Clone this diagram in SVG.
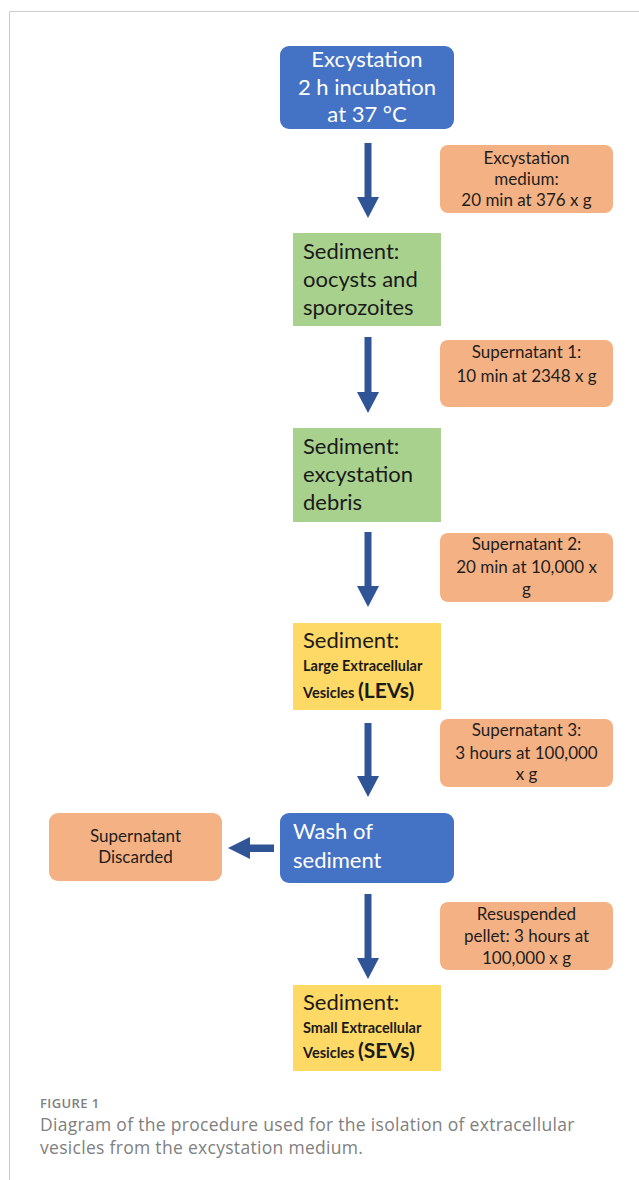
<svg xmlns="http://www.w3.org/2000/svg" width="639" height="1180" viewBox="0 0 639 1180">
<style>
.blue{fill:#4472c4}
.orange{fill:#f4b183}
.green{fill:#a9d18e}
.yellow{fill:#ffd966}
.arrow{fill:#2f5597}
text{font-family:Lato,"Liberation Sans",Arial,sans-serif}
.wt{fill:#ffffff;font-size:22px}
.ot{fill:#1e1e1e;font-size:17px;text-anchor:middle}
.gt{fill:#1a1a1a;font-size:22px}
.sm{font-size:14.5px;font-weight:bold}
.bg{font-size:21px;font-weight:bold}
.cap{fill:#808080;font-family:"Open Sans","Liberation Sans",sans-serif}
</style>
<rect x="0" y="0" width="639" height="1180" fill="#ffffff"/>
<path d="M9.5,1180 V11.5 H639" fill="none" stroke="#cccccc" stroke-width="1"/>

<g id="connectors">
<polygon class="arrow" points="364.5,143 371.5,143 371.5,197 379,197 368,218 357,197 364.5,197"/>
<polygon class="arrow" points="364.5,337 371.5,337 371.5,392 379,392 368,413 357,392 364.5,392"/>
<polygon class="arrow" points="364.5,532 371.5,532 371.5,586 379,586 368,607 357,586 364.5,586"/>
<polygon class="arrow" points="364.5,723 371.5,723 371.5,776 379,776 368,797 357,776 364.5,776"/>
<polygon class="arrow" points="364.5,894 371.5,894 371.5,958 379,958 368,979 357,958 364.5,958"/>
<polygon class="arrow" points="274,844.5 274,852 250,852 250,859 228,848 250,837 250,844.5"/>
</g>

<g id="n-excystation">
<rect class="blue" x="280" y="46" width="174" height="83" rx="9"/>
<text class="wt" text-anchor="middle"><tspan x="367" y="67">Excystation</tspan><tspan x="367" y="95">2 h incubation</tspan><tspan x="367" y="122">at 37 °C</tspan></text>
</g>

<g id="n-medium">
<rect class="orange" x="440" y="145" width="173" height="68" rx="8"/>
<text class="ot"><tspan x="526.5" y="164">Excystation</tspan><tspan x="526.5" y="185">medium:</tspan><tspan x="526.5" y="206">20 min at 376 x g</tspan></text>
</g>

<g id="n-sediment1">
<rect class="green" x="293" y="233" width="148" height="93"/>
<text class="gt"><tspan x="303" y="259">Sediment:</tspan><tspan x="303" y="287">oocysts and</tspan><tspan x="303" y="315">sporozoites</tspan></text>
</g>

<g id="n-super1">
<rect class="orange" x="440" y="340" width="173" height="67" rx="8"/>
<text class="ot"><tspan x="526.5" y="358">Supernatant 1:</tspan><tspan x="526.5" y="382">10 min at 2348 x g</tspan></text>
</g>

<g id="n-sediment2">
<rect class="green" x="293" y="428" width="148" height="94"/>
<text class="gt"><tspan x="303" y="454">Sediment:</tspan><tspan x="303" y="482">excystation</tspan><tspan x="303" y="510">debris</tspan></text>
</g>

<g id="n-super2">
<rect class="orange" x="440" y="533" width="173" height="69" rx="8"/>
<text class="ot"><tspan x="526.5" y="550">Supernatant 2:</tspan><tspan x="526.5" y="573">20 min at 10,000 x</tspan><tspan x="526.5" y="595">g</tspan></text>
</g>

<g id="n-levs">
<rect class="yellow" x="293" y="623" width="148" height="87"/>
<text class="gt" x="303" y="648">Sediment:</text>
<text class="gt sm" x="303" y="671">Large Extracellular</text>
<text class="gt" x="303" y="698"><tspan class="sm">Vesicles </tspan><tspan class="bg">(LEVs)</tspan></text>
</g>

<g id="n-super3">
<rect class="orange" x="440" y="719" width="173" height="68" rx="8"/>
<text class="ot"><tspan x="526.5" y="736">Supernatant 3:</tspan><tspan x="526.5" y="759">3 hours at 100,000</tspan><tspan x="526.5" y="780">x g</tspan></text>
</g>

<g id="n-wash">
<rect class="blue" x="280" y="813" width="174" height="70" rx="9"/>
<text class="wt"><tspan x="293" y="839">Wash of</tspan><tspan x="293" y="868">sediment</tspan></text>
</g>

<g id="n-discard">
<rect class="orange" x="49" y="813" width="173" height="68" rx="9"/>
<text class="ot"><tspan x="135.5" y="842">Supernatant</tspan><tspan x="135.5" y="863">Discarded</tspan></text>
</g>

<g id="n-resuspended">
<rect class="orange" x="440" y="902" width="173" height="68" rx="8"/>
<text class="ot"><tspan x="526.5" y="920">Resuspended</tspan><tspan x="526.5" y="942">pellet: 3 hours at</tspan><tspan x="526.5" y="964">100,000 x g</tspan></text>
</g>

<g id="n-sevs">
<rect class="yellow" x="293" y="985" width="148" height="86"/>
<text class="gt" x="303" y="1010">Sediment:</text>
<text class="gt sm" x="303" y="1033">Small Extracellular</text>
<text class="gt" x="303" y="1058"><tspan class="sm">Vesicles </tspan><tspan class="bg">(SEVs)</tspan></text>
</g>

<g id="caption">
<text class="cap" x="40" y="1108" font-size="13" font-weight="600" letter-spacing="0.4">FIGURE 1</text>
<text class="cap" font-size="17.5" letter-spacing="0.3"><tspan x="40" y="1131">Diagram of the procedure used for the isolation of extracellular</tspan><tspan x="40" y="1154">vesicles from the excystation medium.</tspan></text>
</g>
</svg>
